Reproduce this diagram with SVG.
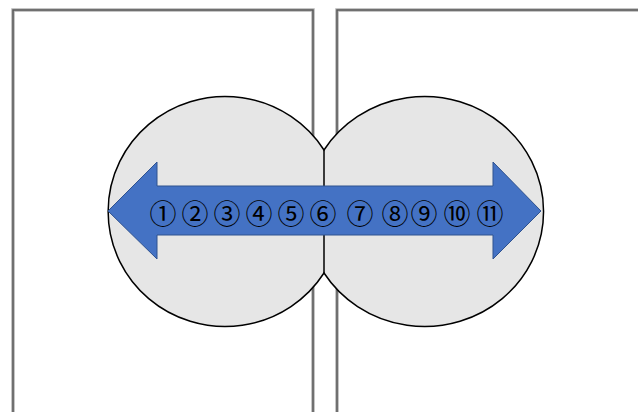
<svg xmlns="http://www.w3.org/2000/svg" width="638" height="412" viewBox="0 0 638 412">
  <style>
    .halo { fill: none; stroke: #b4b4b4; stroke-width: 3.5; }
    .frame { fill: none; stroke: #5a5a5a; stroke-width: 1.5; }
    .disc { fill: #e6e6e6; stroke: #000; stroke-width: 1.5; }
    .arrow { fill: #4472c4; stroke: #2f528f; stroke-width: 1; }
    .num { font-family: "Noto Sans CJK JP", "DejaVu Sans", sans-serif; font-size: 27px; fill: #000; text-anchor: middle; dominant-baseline: central; }
  </style>
  <rect width="638" height="412" fill="#ffffff"/>
  <g id="panel-left">
    <rect class="halo" x="13" y="10" width="300" height="420"/>
    <rect class="frame" x="13" y="10" width="300" height="420"/>
  </g>
  <g id="panel-right">
    <rect class="halo" x="337" y="10" width="320" height="420"/>
    <rect class="frame" x="337" y="10" width="320" height="420"/>
  </g>
  <g id="discs">
    <path class="disc" d="M324,150 A117,115 0 1,0 324,273 A119,115 0 1,0 324,150 Z"/>
    <line x1="324" y1="150" x2="324" y2="273" stroke="#000" stroke-width="1.5"/>
  </g>
  <g id="arrow">
    <path class="arrow" d="M108,211 L157,162 L157,186 L493,186 L493,162 L541,211 L493,259 L493,235 L157,235 L157,259 Z"/>
  </g>
  <g id="numbers">
    <text class="num" x="163" y="212">①</text>
    <text class="num" x="195" y="212">②</text>
    <text class="num" x="227" y="212">③</text>
    <text class="num" x="259" y="212">④</text>
    <text class="num" x="291" y="212">⑤</text>
    <text class="num" x="323" y="212">⑥</text>
    <text class="num" x="360" y="212">⑦</text>
    <text class="num" x="395" y="212">⑧</text>
    <text class="num" x="424" y="212">⑨</text>
    <text class="num" x="457" y="212">⑩</text>
    <text class="num" x="490" y="212">⑪</text>
  </g>
</svg>
